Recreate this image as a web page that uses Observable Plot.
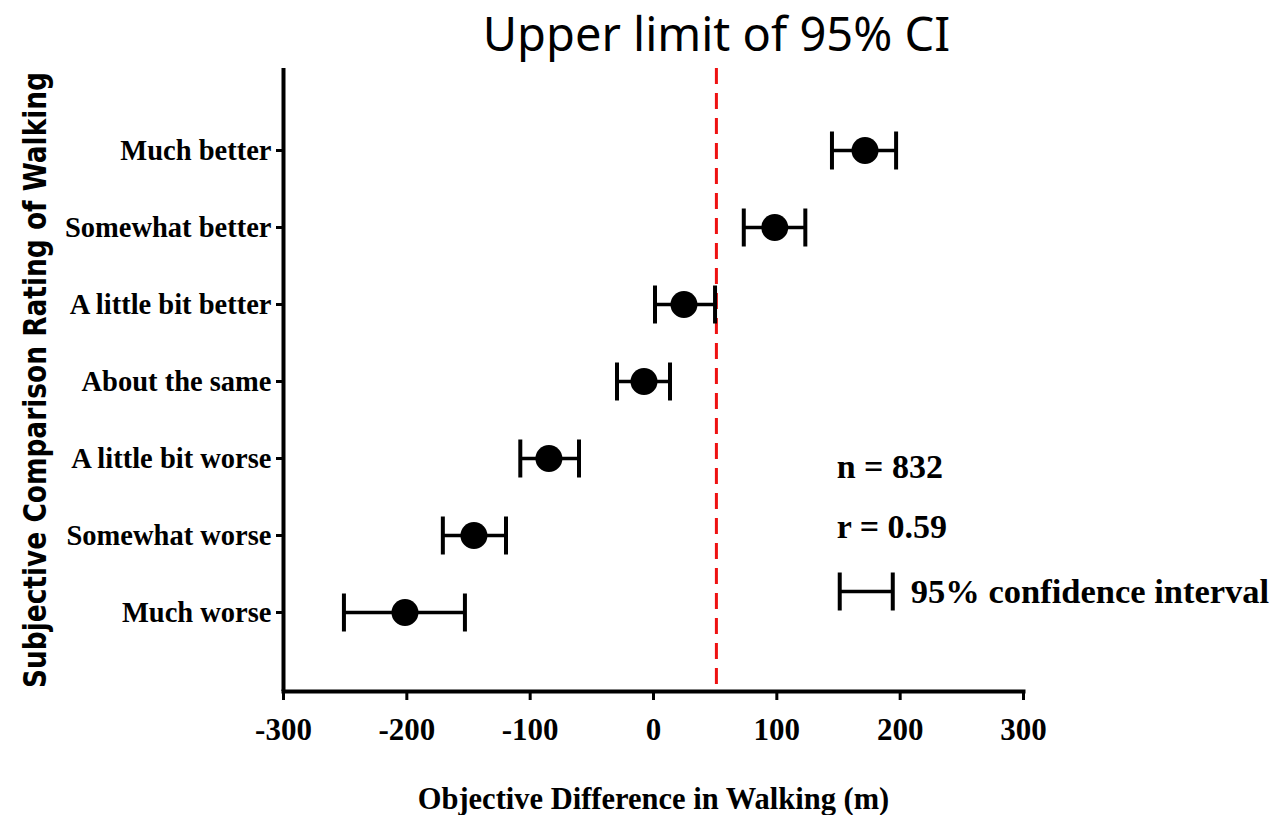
<!DOCTYPE html>
<html>
<head>
<meta charset="utf-8">
<script src="https://cdn.jsdelivr.net/npm/d3@7"></script>
<script src="https://cdn.jsdelivr.net/npm/@observablehq/plot@0.6"></script>
<style>
  html, body { margin: 0; padding: 0; background: #fff; }
  #chart svg { display: block; }
</style>
</head>
<body>
<div id="chart"></div>
<script>
// ---- data ----
const categories = ["Much better", "Somewhat better", "A little bit better", "About the same", "A little bit worse", "Somewhat worse", "Much worse"];
const means = [171.5, 98.3, 24.7, -7.7, -84.8, -145.6, -201.5];
const lower = [144.7, 73.2, 1.2, -29.6, -108, -170.8, -251];
const upper = [196.7, 123.1, 49.9, 13.4, -60.4, -119.6, -152.9];
const xTicks = [-300, -200, -100, 0, 100, 200, 300];
const ciLimit = [51];
const titleText = "Upper limit of 95% CI";
const xLabel = "Objective Difference in Walking (m)";
const yLabel = "Subjective Comparison Rating of Walking";
const statLabels = ["n = 832", "r = 0.59"];
const statRows = ["A little bit worse", "Somewhat worse"];
const legendLabel = "95% confidence interval";
const legendCI = [151, 194];
const legendRow = "Much worse";

const rows = categories.map((c, i) => ({cat: c, mean: means[i], lo: lower[i], hi: upper[i]}));
const stats = statLabels.map((t, i) => ({text: t, row: statRows[i]}));
const legend = [{row: legendRow, lo: legendCI[0], hi: legendCI[1], text: legendLabel}];

const vbar = {
  draw(ctx, size) {
    const r = Math.sqrt(size / Math.PI);
    ctx.moveTo(0, -r);
    ctx.lineTo(0, r);
  }
};

const serif = "'Liberation Serif', 'Times New Roman', serif";

const chart = Plot.plot({
  width: 1272,
  height: 815,
  marginLeft: 283,
  marginRight: 249,
  marginTop: 68,
  marginBottom: 124,
  style: {fontFamily: serif, fontWeight: "bold", background: "#fff", color: "#000"},
  x: {domain: [-300, 300], ticks: xTicks},
  y: {type: "point", domain: categories, range: [149, 613], padding: 0},
  marks: [
    // axes
    Plot.axisX({ticks: xTicks, tickSize: 9, tickPadding: 17, strokeWidth: 3, fontSize: 31, fontFamily: serif, fontWeight: "bold", label: null, tickFormat: d => String(d)}),
    Plot.axisY({tickSize: 7, tickPadding: 5, strokeWidth: 3, fontSize: 28.5, fontFamily: serif, fontWeight: "bold", label: null}),
    Plot.ruleX([-300], {strokeWidth: 4, stroke: "black"}),
    Plot.frame({anchor: "bottom", strokeWidth: 4, stroke: "black"}),
    // reference line
    Plot.ruleX(ciLimit, {stroke: "#ee1111", strokeWidth: 3, strokeDasharray: "16,9"}),
    // error bars
    Plot.ruleY(rows, {y: "cat", x1: "lo", x2: "hi", strokeWidth: 3.5, stroke: "black"}),
    Plot.dot(rows, {x: "lo", y: "cat", symbol: vbar, r: 19, fill: "none", stroke: "black", strokeWidth: 4}),
    Plot.dot(rows, {x: "hi", y: "cat", symbol: vbar, r: 19, fill: "none", stroke: "black", strokeWidth: 4}),
    Plot.dot(rows, {x: "mean", y: "cat", r: 13.5, fill: "black", stroke: "none"}),
    // stats annotations
    Plot.text(stats, {x: legendCI[0] - 2.5, y: "row", text: "text", textAnchor: "start", fontSize: 34, fontFamily: serif, fontWeight: "bold"}),
    // legend
    Plot.ruleY(legend, {y: "row", x1: "lo", x2: "hi", dy: -21, strokeWidth: 3.5, stroke: "black"}),
    Plot.dot(legend, {x: "lo", y: "row", dy: -21, symbol: vbar, r: 19, fill: "none", stroke: "black", strokeWidth: 4}),
    Plot.dot(legend, {x: "hi", y: "row", dy: -21, symbol: vbar, r: 19, fill: "none", stroke: "black", strokeWidth: 4}),
    Plot.text(legend, {x: "hi", y: "row", text: "text", dx: 18, dy: -21, textAnchor: "start", fontSize: 34.5, fontFamily: serif, fontWeight: "bold"}),
    // title
    Plot.text([titleText], {x: ciLimit[0], frameAnchor: "top", dy: -33, text: d => d, fontSize: 47, fontFamily: "'Noto Sans', 'Open Sans', sans-serif", fontWeight: "normal", lineAnchor: "middle"}),
    // axis labels
    Plot.text([xLabel], {frameAnchor: "bottom", dy: 108, text: d => d, fontSize: 30.5, fontFamily: serif, fontWeight: "bold", lineAnchor: "middle", textAnchor: "middle"}),
    Plot.text([yLabel], {frameAnchor: "left", dx: -248, rotate: -90, text: d => d, textAnchor: "middle", fontSize: 32, fontFamily: "'Liberation Sans Narrow', 'DejaVu Sans Condensed', 'Liberation Sans', sans-serif", fontWeight: "bold", lineAnchor: "middle"})
  ]
});

document.getElementById("chart").appendChild(chart);

// fine-tune stat label vertical offsets and y-label length
const svg = d3.select(chart);
svg.selectAll("text").each(function () {
  const t = this.textContent;
  if (t === statLabels[0]) this.setAttribute("transform", (this.getAttribute("transform") || "") + " translate(0,9)");
  if (t === statLabels[1]) this.setAttribute("transform", (this.getAttribute("transform") || "") + " translate(0,-8)");
  if (t === yLabel) {
    this.setAttribute("textLength", 616);
    this.setAttribute("lengthAdjust", "spacingAndGlyphs");
  }
});
</script>
</body>
</html>
